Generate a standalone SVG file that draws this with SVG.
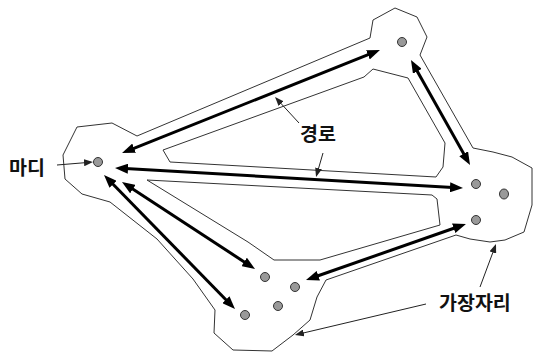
<svg xmlns="http://www.w3.org/2000/svg" width="533" height="352" viewBox="0 0 533 352">
<style>
.region{fill:#fff;stroke:#333;stroke-width:1;fill-rule:evenodd;stroke-linejoin:miter}
.dot{fill:#999;stroke:#333;stroke-width:1}
.path{stroke:#000;stroke-width:3;fill:none;marker-start:url(#big);marker-end:url(#big)}
.note{stroke:#222;stroke-width:1;fill:none;marker-end:url(#small)}
.lbl{font-family:"Noto Sans CJK KR","Noto Sans",sans-serif;font-size:19.5px;font-weight:bold;fill:#111}
</style>
<defs>
<marker id="big" markerUnits="userSpaceOnUse" viewBox="0 0 13 10" markerWidth="13" markerHeight="10" refX="7" refY="5" orient="auto-start-reverse">
<path d="M0,0 L13,5 L0,10 z" fill="#000"/>
</marker>
<marker id="small" markerUnits="userSpaceOnUse" viewBox="0 0 9 7" markerWidth="9" markerHeight="7" refX="7" refY="3.5" orient="auto">
<path d="M0,0 L9,3.5 L0,7 z" fill="#222"/>
</marker>
</defs>
<rect width="533" height="352" fill="#fff"/>
<g id="edge-region">
<path class="region" d="M77,127 L112,123 L137,136 L370,38 L373,20 L395,8 L417,17 L427,37 L420,55 L473,148 L493,152 L512,157 L532,168 L532,205 L524,232 L505,240 L490,242 L470,239 L456,235 L326,280 L317,297 L310,320 L293,335 L272,351 L233,350 L214,333 L215,310 L193,279 L157,239 L110,202 L82,194 L65,179 L63,155 Z M163,150 L170,162 L436,177 L443,167 L445,143 L408,78 L373,69 L364,77 Z M147,180 L432,195 L437,199 L440,225 L320,260 L274,260 L248,242 Z"/>
</g>
<g id="node-left"><circle class="dot" cx="98" cy="162" r="4.5"/></g>
<g id="node-top"><circle class="dot" cx="402" cy="42" r="4.5"/></g>
<g id="node-right">
<circle class="dot" cx="476" cy="184" r="4.5"/>
<ellipse class="dot" cx="504" cy="194" rx="4.5" ry="5"/>
<circle class="dot" cx="476" cy="220" r="4.5"/>
</g>
<g id="node-bottom">
<circle class="dot" cx="265" cy="277" r="4.5"/>
<circle class="dot" cx="295" cy="287" r="4.5"/>
<circle class="dot" cx="278" cy="306" r="4.5"/>
<circle class="dot" cx="245" cy="315" r="4.5"/>
</g>
<g id="connectors">
<line class="path" x1="127.6" y1="150.8" x2="374.4" y2="52.2"/>
<line class="path" x1="413.9" y1="65.2" x2="467.1" y2="159.8"/>
<line class="path" x1="121" y1="168.3" x2="457" y2="187.7"/>
<line class="path" x1="127" y1="185.3" x2="250" y2="265.7"/>
<line class="path" x1="108.2" y1="179.3" x2="230.8" y2="304.7"/>
<line class="path" x1="311.7" y1="278" x2="460.3" y2="226"/>
<line class="note" x1="57" y1="165" x2="91" y2="162.2"/>
<line class="note" x1="299" y1="123" x2="276.4" y2="98.5"/>
<line class="note" x1="323" y1="153" x2="316.6" y2="175.1"/>
<line class="note" x1="480" y1="287" x2="495.3" y2="245.9"/>
<line class="note" x1="426" y1="304" x2="296.9" y2="334.5"/>
</g>
<g id="labels">
<text class="lbl" x="9" y="175">마디</text>
<text class="lbl" x="300" y="141">경로</text>
<text class="lbl" x="439" y="310">가장자리</text>
</g>
</svg>
